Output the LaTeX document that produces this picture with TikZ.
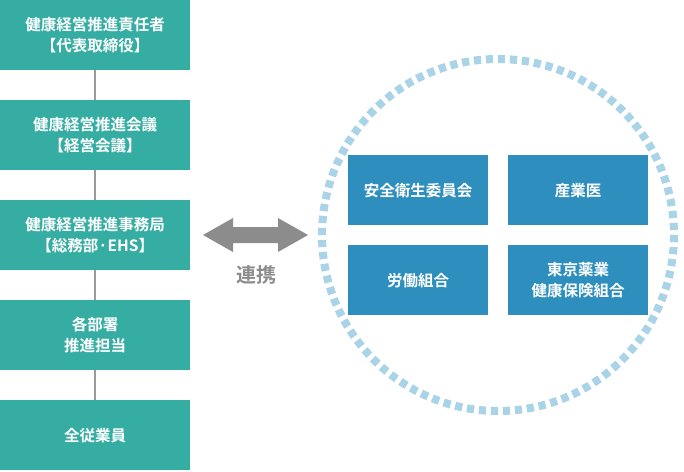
\documentclass[tikz,border=0pt]{standalone}
\usepackage{fontspec}
\setmainfont{Noto Sans CJK JP Bold}
\begin{document}
\begin{tikzpicture}[x=1pt,y=-1pt,
  leftbox/.style={fill=teal1, text=white, minimum width=190pt, minimum height=70pt, inner sep=0pt, align=center, font=\fontsize{15.5}{21.5}\selectfont, anchor=north west},
  innerbox/.style={fill=blue1, text=white, minimum width=140pt, minimum height=70pt, inner sep=0pt, align=center, font=\fontsize{15.5}{21.5}\selectfont, anchor=north west},
  link/.style={draw=gray1, line width=2.5pt}]
\definecolor{teal1}{HTML}{36ADA3}
\definecolor{blue1}{HTML}{2E8FBE}
\definecolor{gray1}{HTML}{9A9A9A}
\definecolor{arrowgray}{HTML}{8C8C8C}
\definecolor{ring}{HTML}{A9D3E6}
\useasboundingbox (0,0) rectangle (684,471);
\node[leftbox] (b1) at (0,0) {健康経営推進責任者\\【代表取締役】};
\node[leftbox] (b2) at (0,100) {健康経営推進会議\\【経営会議】};
\node[leftbox] (b3) at (0,200) {健康経営推進事務局\\【総務部·EHS】};
\node[leftbox] (b4) at (0,300) {各部署\\推進担当};
\node[leftbox] (b5) at (0,400) {全従業員};
\draw[link] (b1.south) -- (b2.north);
\draw[link] (b2.south) -- (b3.north);
\draw[link] (b3.south) -- (b4.north);
\draw[link] (b4.south) -- (b5.north);
% ring
\coordinate (c) at (498,235);
\draw[ring, line width=8pt, dash pattern=on 7.2pt off 4.82pt] (c) circle[radius=176];
\node[innerbox] (i1) at (348,155) {安全衛生委員会};
\node[innerbox] (i2) at (508,155) {産業医};
\node[innerbox] (i3) at (348,245) {労働組合};
\node[innerbox] (i4) at (508,245) {東京薬業\\健康保険組合};
% double arrow
\fill[arrowgray] (203,235) -- (233,218) -- (233,227) -- (278,227) -- (278,218) -- (308,235) -- (278,252) -- (278,243) -- (233,243) -- (233,252) -- cycle;
\node[text=arrowgray, font=\fontsize{20}{24}\selectfont] (lbl) at (256,275) {連携};
\end{tikzpicture}
\end{document}
